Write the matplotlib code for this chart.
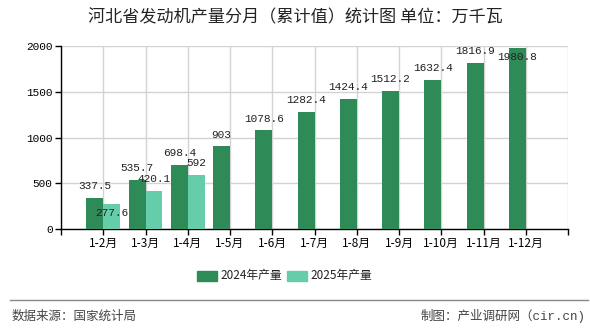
import numpy as np
import matplotlib
matplotlib.use("Agg")
from matplotlib import pyplot as plt
from matplotlib.patches import Rectangle
from matplotlib.lines import Line2D

plt.rcParams['font.family'] = ['Noto Sans CJK SC', 'DejaVu Sans']
MONO = ['Liberation Mono', 'Noto Sans CJK SC']

months = ["1-2月", "1-3月", "1-4月", "1-5月", "1-6月", "1-7月",
          "1-8月", "1-9月", "1-10月", "1-11月", "1-12月"]
prod_2024 = [337.5, 535.7, 698.4, 903, 1078.6, 1282.4,
             1424.4, 1512.2, 1632.4, 1816.9, 1980.8]
prod_2025 = [277.6, 420.1, 592]
y_ticks = [0, 500, 1000, 1500, 2000]

c24, c25 = "#2e8b57", "#66cdaa"

fig = plt.figure(figsize=(5.9, 3.3), dpi=100)
ax = fig.add_axes([61 / 590, 1 - 229 / 330, 507 / 590, 183 / 330])

x = np.arange(1, len(months) + 1)
w = 0.4
ax.bar(x[:len(prod_2024)] - w / 2, prod_2024, width=w, color=c24, zorder=3)
ax.bar(x[:len(prod_2025)] + w / 2, prod_2025, width=w, color=c25, zorder=3)

# labels above bars; a couple pushed inside to avoid overlap / clipping
def put_labels(xs, vals, inside):
    for i, (xi, v) in enumerate(zip(xs, vals)):
        dy = -6.5 if i in inside else 8.5
        ax.annotate(f"{v:g}", (xi, v), xytext=(0, dy), textcoords="offset points",
                    ha="center", va="center", fontsize=8, family=MONO,
                    color="#222222", zorder=5, annotation_clip=False)

put_labels(x[:len(prod_2024)] - w / 2, prod_2024, inside={10})
put_labels(x[:len(prod_2025)] + w / 2, prod_2025, inside={0})

ax.set_xlim(0, 12)
ax.set_ylim(0, 2000)
ax.set_xticks(np.arange(0, 13))
ax.set_xticklabels([""] + months + [""], fontsize=8.5)
ax.set_yticks(y_ticks)
ax.set_yticklabels([str(t) for t in y_ticks], fontsize=8, family=MONO)
ax.tick_params(axis="both", length=4, width=1, color="black", pad=2)
ax.grid(True, color="#d3d3d3", linewidth=1, zorder=0)
for s in ["top", "right"]:
    ax.spines[s].set_visible(False)
for s in ["left", "bottom"]:
    ax.spines[s].set_color("black")
    ax.spines[s].set_linewidth(1)

fig.text(0.5, 1 - 17 / 330, "河北省发动机产量分月（累计值）统计图 单位：万千瓦",
         ha="center", va="center", fontsize=12.3, color="#222222")

# legend
for lx, col, lab in [(197, c24, "2024年产量"), (287, c25, "2025年产量")]:
    fig.patches.append(Rectangle((lx / 590, 1 - 281 / 330), 20 / 590, 10 / 330,
                                 transform=fig.transFigure, color=col))
    fig.text((lx + 23) / 590, 1 - 276 / 330, lab, ha="left", va="center",
             fontsize=8.5, color="#222222")

fig.lines.append(Line2D([10 / 590, 588 / 590], [1 - 300 / 330] * 2,
                        transform=fig.transFigure, color="#888888", linewidth=1))
fig.text(12 / 590, 1 - 316 / 330, "数据来源：国家统计局", ha="left", va="center",
         fontsize=9, color="#444444")
fig.text(586 / 590, 1 - 316 / 330, "制图：产业调研网（cir.cn)", ha="right", va="center",
         fontsize=9, color="#444444", family=MONO)

fig.savefig("out.png", dpi=100)
